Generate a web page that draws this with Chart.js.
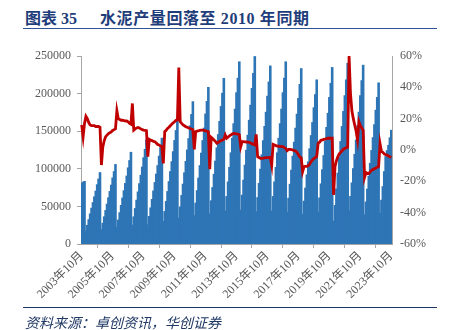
<!DOCTYPE html>
<html>
<head>
<meta charset="utf-8">
<script src="https://cdn.jsdelivr.net/npm/chart.js@4"></script>
<style>
  html, body { margin: 0; padding: 0; background: #fff; }
  body { width: 451px; height: 330px; position: relative; overflow: hidden; }
  #chart { position: absolute; left: 0; top: 0; }
  .title {
    position: absolute; top: 5px;
    font: bold 16px "Liberation Serif", "Noto Sans CJK SC", serif;
    color: #1F3D7A; white-space: pre;
  }
  .rule-top { position: absolute; left: 23px; top: 28px; width: 414px; border-top: 1.5px solid #2F5496; }
  .rule-bottom { position: absolute; left: 23px; top: 307px; width: 414px; border-top: 1px solid #1F3864; }
  .source {
    position: absolute; left: 25px; top: 312px;
    font: italic 14px "Noto Sans CJK SC", sans-serif;
    color: #1F3864; white-space: pre;
  }
</style>
</head>
<body>
<div class="title" style="left:25px">图表 35</div>
<div class="title" style="left:100px; letter-spacing:0.6px">水泥产量回落至 2010 年同期</div>
<div class="rule-top"></div>
<canvas id="chart" width="451" height="330"></canvas>
<div class="rule-bottom"></div>
<div class="source">资料来源：卓创资讯，华创证券</div>

<script>
// Cumulative cement output (万吨), Oct 2003 onwards; Jan is merged into Feb each year
const output = [
  80500, 82000, 83000,                                                                  // 2003 Oct-Dec
  17000, 24600, 32200, 39800, 47400, 54900, 62500, 70100, 78600, 86200, 94700,          // 2004
  19000, 27400, 35900, 44300, 52800, 61200, 69600, 78100, 87600, 96000, 105500,         // 2005
  21900, 31600, 41400, 51100, 60900, 70600, 80300, 90100, 101000, 110700, 121700,       // 2006
  24800, 35900, 46900, 58000, 69000, 80000, 91100, 102100, 114500, 125600, 138000,      // 2007
  25300, 36500, 47800, 59000, 70300, 81500, 92700, 104000, 116600, 127900, 140500,      // 2008
  29800, 43000, 56300, 69500, 82800, 96000, 109200, 122500, 137400, 150600, 165500,     // 2009
  34000, 49100, 64300, 79400, 94500, 109600, 124700, 139900, 156900, 172000, 189000,    // 2010
  37400, 54100, 70700, 87400, 104000, 120600, 137300, 153900, 172600, 189300, 208000,   // 2011
  39600, 57200, 74800, 92400, 110000, 127600, 145200, 162800, 182600, 200200, 220000,   // 2012
  43600, 62900, 82300, 101600, 121000, 140400, 159700, 179100, 200900, 220200, 242000,  // 2013
  44800, 64700, 84700, 104600, 124500, 144400, 164300, 184300, 206700, 226600, 249000,  // 2014
  42600, 61500, 80400, 99300, 118300, 137200, 156100, 175000, 196300, 215200, 236500,   // 2015
  43600, 62900, 82300, 101600, 121000, 140400, 159700, 179100, 200900, 220200, 242000,  // 2016
  41900, 60600, 79200, 97900, 116500, 135100, 153800, 172400, 193400, 212000, 233000,   // 2017
  39200, 56700, 74100, 91600, 109000, 126400, 143900, 161300, 180900, 198400, 218000,   // 2018
  42200, 61000, 79700, 98500, 117300, 136000, 154800, 173500, 194600, 213400, 234500,   // 2019
  30100, 51000, 73000, 94000, 115000, 136000, 156000, 176000, 197000, 218000, 240000,   // 2020
  44000, 63000, 81000, 100000, 119000, 138000, 157000, 175000, 197000, 217000, 237500,  // 2021
  38500, 55600, 72800, 89900, 107000, 124100, 141200, 158400, 177600, 194700, 214000,   // 2022
  40700, 58000, 76000, 96000, 116000, 124000, 131000, 141000, 151000                    // 2023 Feb-Oct
];

// Year-on-year change of cumulative output (%)
const outputYoY = [
  16, 8.5, 17,
  21.5, 20, 17.5, 16, 15.5, 15.5, 15.5, 15, 15, 15, 14.5,
  -9.6, 2, 6, 8.5, 9.5, 10.5, 11, 11.5, 12.5, 13, 13.5,
  25, 20, 19.5, 19, 19, 18.8, 18.5, 18.5, 18, 17, 16.5,
  29.7, 12.7, 13.5, 14, 14.4, 14, 13.5, 13, 12.7, 12.5, 12.3,
  -4.2, 6.8, 6.3, 6, 5.5, 5.3, 4.5, 3.5, 3.2, 2.5, 2.1,
  -8.5, 11.7, 12.5, 13.8, 14.5, 15.5, 16.5, 17.4, 18, 19, 19.1,
  52.7, 18, 17, 16, 15.5, 14.9, 14.5, 14, 13.7, 13.4, 13,
  0.4, 11.7, 12, 12.3, 12.5, 12.7, 12.7, 12.5, 12.2, 12, 11.7,
  -12.3, 8.1, 7.3, 6.4, 5.5, 4.3, 4.8, 5.5, 6, 6.4, 6.8,
  9.6, 7.5, 8.3, 9, 9.6, 10.2, 10.6, 10.5, 10.3, 10.2, 9.8,
  2.1, 5.3, 5.3, 5.2, 5.1, 5, 4.9, 4.5, 4, 3.5, 3.2,
  10, -4.3, -4.8, -5.3, -5.3, -5.2, -5, -4.9, -4.8, -4.7, -4.7,
  -9.6, 3.6, 3.2, 2.8, 2.5, 2.4, 2.3, 2.2, 2.1, 1.5, 1,
  -0.4, 0.4, 0.4, 0.2, 0, -0.4, -0.6, -1.5, -3, -4.5, -5,
  -13.8, -10.6, -10.5, -10.4, -10, -9, -7.4, -6.4, -5.5, -4.8, -4.3,
  4.3, 5, 6.2, 6.4, 6.8, 7, 7.2, 7.5, 7.5, 7.5, 7.5,
  -28.7, -10.6, -6.8, -4.3, -2.5, -1.5, -0.5, 0.5, 1, 1.5, 1.8,
  60, 36, 25, 20, 16, 12, 6.4, 18, 15.5, 14, 12.5,
  -17.5, -14.4, -15, -15, -14, -13, -12.5, -12, -11.5, -11, -10.5,
  4, -1, -1.5, -2.5, -3, -3.2, -3.8, -4.3, -4.7
];

// Month labels: Oct-Dec 2003, then Feb-Dec of each year up to Oct 2023
const firstYear = 2003, lastYear = 2023, lastMonth = 10;
const labels = ['2003年10月', '2003年11月', '2003年12月'];
for (let y = firstYear + 1; y <= lastYear; y++) {
    const endMonth = y === lastYear ? lastMonth : 12;
    for (let m = 2; m <= endMonth; m++) labels.push(y + '年' + m + '月');
}
const labelEvery = 22; // every second October

const axisGrey = '#A6A6A6';
const tickFont = { family: '"Liberation Serif", "Noto Sans CJK SC", serif', size: 12 };

const ctx = document.getElementById('chart').getContext('2d');
new Chart(ctx, {
    data: {
        labels: labels,
        datasets: [
            {
                type: 'line',
                label: '同比',
                data: outputYoY,
                yAxisID: 'y1',
                borderColor: '#C00000',
                borderWidth: 2.8,
                pointRadius: 0,
                tension: 0,
                order: 0
            },
            {
                type: 'bar',
                label: '水泥产量',
                data: output,
                yAxisID: 'y',
                backgroundColor: '#2E75B6',
                borderWidth: 0,
                inflateAmount: 0.6,
                barPercentage: 1,
                categoryPercentage: 1,
                order: 1
            }
        ]
    },
    options: {
        responsive: false,
        animation: false,
        devicePixelRatio: 1,
        layout: { padding: { top: 56, left: 0, right: 0, bottom: 0 } },
        plugins: { legend: { display: false }, tooltip: { enabled: false } },
        scales: {
            x: {
                afterFit: s => { s.height = 86; },
                grid: { drawOnChartArea: false, tickLength: 4, color: axisGrey },
                border: { color: axisGrey },
                ticks: {
                    autoSkip: false,
                    minRotation: 45,
                    maxRotation: 45,
                    padding: 1,
                    color: '#595959',
                    font: tickFont,
                    callback: function(val, i) {
                        return i % labelEvery === 0 ? this.getLabelForValue(val) : null;
                    }
                }
            },
            y: {
                position: 'left',
                min: 0,
                max: 250000,
                afterFit: s => { s.width = 81; },
                grid: { drawOnChartArea: false, tickLength: 4, color: axisGrey },
                border: { color: axisGrey },
                ticks: {
                    stepSize: 50000,
                    padding: 6,
                    color: '#595959',
                    font: tickFont,
                    callback: v => String(v)
                }
            },
            y1: {
                position: 'right',
                min: -60,
                max: 60,
                afterFit: s => { s.width = 59; },
                grid: { drawOnChartArea: false, drawTicks: false, color: axisGrey },
                border: { color: axisGrey },
                ticks: {
                    stepSize: 20,
                    padding: 8,
                    color: '#595959',
                    font: tickFont,
                    callback: v => v + '%'
                }
            }
        }
    }
});
</script>
</body>
</html>
